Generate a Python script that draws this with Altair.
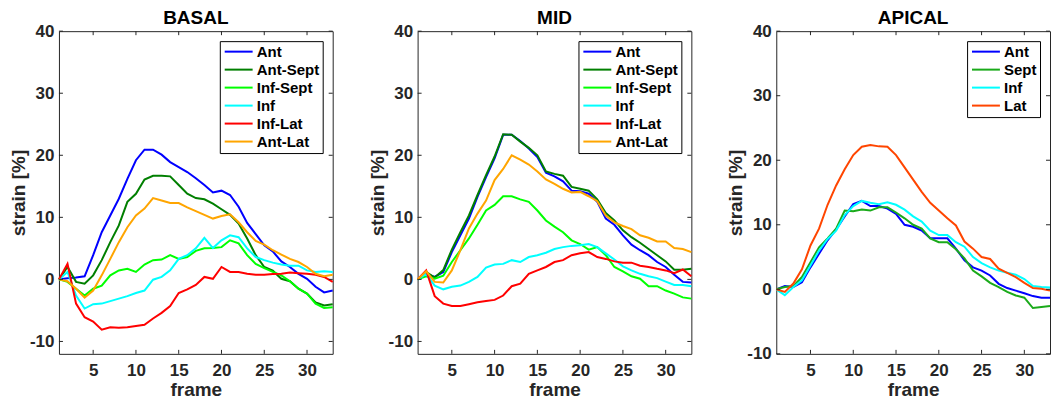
import altair as alt
import pandas as pd

FRAMES = list(range(1, 34))
X_TICKS = [5, 10, 15, 20, 25, 30]
Y_TICKS = [-10, 0, 10, 20, 30, 40]

# ---------------- BASAL ----------------
BASAL_NAMES = ["Ant", "Ant-Sept", "Inf-Sept", "Inf", "Inf-Lat", "Ant-Lat"]
BASAL_COLORS = ["#0000ff", "#007f00", "#00ff00", "#00ffff", "#ff0000", "#ffa500"]
basal_ant = [0, 0.2, 0.3, 0.5, 3.9, 7.6, 10.3, 13.0, 16.2, 19.2, 20.9, 20.9, 20.1, 18.9, 18.1, 17.3,
             16.3, 15.2, 14.0, 14.3, 13.6, 11.7, 9.1, 7.3, 5.5, 4.5, 2.9, 2.0, 0.9, 0.1, -1.2, -2.1, -1.8]
basal_antsept = [0, 2.0, -0.4, -0.7, 0.65, 3.1, 6.0, 8.7, 12.5, 13.8, 16.1, 16.7, 16.7, 16.6, 15.2, 13.8,
                 13.1, 12.9, 12.2, 11.3, 10.4, 9.0, 6.6, 3.9, 2.0, 1.4, 0.1, -0.3, -1.5, -2.3, -3.7, -4.2, -4.0]
basal_infsept = [0, -0.4, -1.5, -2.6, -1.5, -1.0, 0.65, 1.45, 1.7, 1.2, 2.4, 3.1, 3.2, 3.9, 3.3, 3.6,
                 4.6, 5.0, 5.05, 5.2, 6.3, 5.8, 3.9, 2.5, 1.8, 1.2, 0.65, -0.3, -1.5, -2.3, -3.9, -4.6, -4.5]
basal_inf = [0, 1.2, -2.6, -4.7, -4.0, -3.9, -3.5, -3.1, -2.7, -2.2, -1.8, -0.05, 0.4, 1.45, 3.3, 3.9,
             5.0, 6.7, 5.05, 6.3, 7.1, 6.8, 5.0, 3.6, 3.1, 2.7, 2.4, 2.2, 2.2, 1.45, 1.2, 1.3, 1.2]
basal_inflat = [0, 2.5, -3.9, -6.1, -6.8, -8.1, -7.7, -7.8, -7.7, -7.5, -7.3, -6.3, -5.4, -4.3, -2.2, -1.6,
                -0.9, 0.4, 0.1, 2.0, 1.2, 1.2, 0.9, 0.75, 0.75, 0.85, 0.9, 1.1, 1.0, 0.9, 0.75, 0.4, -0.4]
basal_antlat = [0, -0.3, -1.5, -2.95, -1.8, 0.65, 3.3, 6.0, 8.4, 10.3, 11.4, 13.1, 12.7, 12.3, 12.3, 11.6,
                11.0, 10.4, 9.8, 10.2, 10.5, 9.2, 7.6, 6.2, 5.6, 4.7, 4.0, 3.3, 2.8, 2.0, 0.9, 0.5, 0.75]

# ---------------- MID ----------------
MID_NAMES = BASAL_NAMES
MID_COLORS = BASAL_COLORS
mid_ant = [0, 0.9, 0.4, 1.2, 4.4, 7.1, 9.8, 13.3, 16.5, 19.5, 23.3, 23.3, 22.3, 21.1, 19.7, 17.2,
           16.6, 15.8, 14.3, 14.2, 13.8, 12.5, 9.8, 8.8, 7.1, 5.6, 4.7, 3.9, 2.8, 2.0, 0.75, -0.4, -0.5]
mid_antsept = [0, 1.2, 0.3, 1.5, 4.8, 7.6, 10.3, 13.6, 16.8, 19.8, 23.4, 23.3, 22.2, 21.2, 20.0, 17.4,
               17.0, 16.7, 14.9, 14.6, 14.3, 12.9, 10.7, 9.5, 7.9, 6.8, 5.9, 4.9, 3.9, 2.9, 1.55, 1.55, 1.7]
mid_infsept = [0, 0.5, 0.1, 0.6, 2.8, 4.7, 6.6, 8.8, 11.1, 12.0, 13.4, 13.4, 12.9, 12.5, 11.1, 9.5,
               8.5, 7.6, 6.3, 5.7, 4.8, 5.2, 3.9, 2.0, 1.3, 0.5, 0.1, -1.1, -1.1, -1.8, -2.3, -2.9, -3.1]
mid_inf = [0, 0.9, -1.0, -1.6, -1.2, -1.0, -0.4, 0.4, 1.9, 2.4, 2.5, 3.1, 2.8, 3.6, 3.9, 4.3,
           4.9, 5.2, 5.4, 5.5, 5.7, 5.2, 4.2, 3.2, 2.1, 1.45, 0.9, 0.5, 0.2, -0.35, -0.9, -0.9, -1.1]
mid_inflat = [0, 1.45, -2.7, -3.9, -4.3, -4.3, -4.0, -3.7, -3.5, -3.3, -2.6, -1.1, -0.7, 0.9, 1.45, 2.0,
              2.8, 3.1, 3.9, 4.2, 4.4, 3.6, 3.3, 2.9, 2.7, 2.7, 2.2, 2.0, 1.7, 1.45, 1.0, 1.6, 0.5]
mid_antlat = [0, 1.3, -0.4, -0.5, 1.45, 4.7, 8.2, 10.6, 12.7, 16.0, 17.8, 20.0, 19.3, 18.5, 17.4, 16.1,
              15.4, 14.6, 14.0, 14.1, 13.4, 12.6, 10.3, 9.2, 8.6, 8.1, 7.1, 6.7, 6.1, 6.1, 5.05, 4.9, 4.4]

# ---------------- APICAL ----------------
APICAL_NAMES = ["Ant", "Sept", "Inf", "Lat"]
APICAL_COLORS = ["#0000ff", "#1aaa1a", "#00ffff", "#ff4500"]
apical_ant = [0, 0.5, 0.35, 1.1, 3.4, 5.5, 7.6, 9.3, 11.3, 13.2, 13.7, 12.9, 12.9, 12.5, 11.7, 10.0,
              9.7, 9.1, 7.9, 7.9, 7.9, 6.3, 4.5, 3.4, 2.9, 2.15, 0.85, 0.2, -0.2, -0.6, -1.05, -1.3, -1.3]
apical_sept = [0, 0.35, 0.5, 1.9, 4.2, 6.5, 7.9, 9.4, 12.2, 12.1, 12.35, 12.2, 12.7, 12.7, 11.9, 11.0,
               10.0, 9.4, 7.9, 7.3, 7.3, 6.2, 4.8, 2.9, 2.0, 1.0, 0.35, -0.4, -0.95, -1.3, -2.9, -2.75, -2.6]
apical_inf = [0, -0.9, 0.35, 1.4, 3.7, 6.0, 7.8, 9.1, 11.5, 12.9, 13.7, 13.4, 13.2, 13.5, 13.1, 12.35,
              11.3, 10.5, 9.1, 8.4, 8.4, 7.3, 6.6, 5.0, 4.05, 3.4, 2.9, 2.56, 2.25, 1.6, 0.5, 0.35, 0.3]
apical_lat = [0, -0.4, 0.9, 3.1, 6.8, 9.4, 13.1, 16.1, 18.6, 20.8, 22.1, 22.35, 22.15, 22.1, 20.8, 18.9,
              17.0, 15.1, 13.4, 12.2, 11.0, 9.9, 7.4, 6.3, 5.0, 4.7, 3.2, 2.56, 1.9, 1.0, 0.2, 0.1, -0.2]

FONT = "Liberation Sans"
AX_COLOR = "#262626"
W, H, TL = 274, 323, 4


def long_df(names, series):
    rows = []
    for name, vals in zip(names, series):
        for f, v in zip(FRAMES, vals):
            rows.append({"frame": f, "strain": v, "segment": name})
    return pd.DataFrame(rows)


def panel(title, names, colors, series, ydomain):
    df = long_df(names, series)
    xs = alt.Scale(domain=[1, 33], nice=False, zero=False)
    ys = alt.Scale(domain=ydomain, nice=False, zero=False)
    xaxis = alt.Axis(values=X_TICKS, title="frame", ticks=False, tickSize=0,
                     domain=False, grid=False, labelPadding=9, titlePadding=2,
                     labelExpr="'' + datum.value")
    yaxis = alt.Axis(values=Y_TICKS, title="strain [%]", ticks=False, tickSize=0,
                     domain=False, grid=False, labelPadding=5, titlePadding=1,
                     labelExpr="'' + datum.value")
    lines = alt.Chart(df).mark_line(strokeWidth=2).encode(
        x=alt.X("frame:Q", scale=xs, axis=xaxis),
        y=alt.Y("strain:Q", scale=ys, axis=yaxis),
        color=alt.Color("segment:N", scale=alt.Scale(domain=names, range=colors),
                        legend=alt.Legend(title=None)),
    )
    xt = alt.Chart(pd.DataFrame({"t": X_TICKS}))
    yt = alt.Chart(pd.DataFrame({"t": Y_TICKS}))
    rule = dict(color=AX_COLOR, strokeWidth=1)
    t_bottom = xt.mark_rule(**rule).encode(
        x=alt.X("t:Q", scale=xs, axis=xaxis), y=alt.value(H), y2=alt.value(H - TL))
    t_top = xt.mark_rule(**rule).encode(
        x=alt.X("t:Q", scale=xs, axis=xaxis), y=alt.value(0), y2=alt.value(TL))
    t_left = yt.mark_rule(**rule).encode(
        y=alt.Y("t:Q", scale=ys, axis=yaxis), x=alt.value(0), x2=alt.value(TL))
    t_right = yt.mark_rule(**rule).encode(
        y=alt.Y("t:Q", scale=ys, axis=yaxis), x=alt.value(W), x2=alt.value(W - TL))
    ttl = alt.Chart(pd.DataFrame({"label": [title]})).mark_text(
        font=FONT, fontSize=19, fontWeight="bold", color="black",
        align="center", baseline="alphabetic",
    ).encode(x=alt.value(W / 2), y=alt.value(-7.5), text="label:N")
    return alt.layer(lines, t_bottom, t_top, t_left, t_right, ttl).properties(
        width=W, height=H,
    )


p1 = panel("BASAL", BASAL_NAMES, BASAL_COLORS,
           [basal_ant, basal_antsept, basal_infsept, basal_inf, basal_inflat, basal_antlat], [-12, 40])
p2 = panel("MID", MID_NAMES, MID_COLORS,
           [mid_ant, mid_antsept, mid_infsept, mid_inf, mid_inflat, mid_antlat], [-12, 40])
p3 = panel("APICAL", APICAL_NAMES, APICAL_COLORS,
           [apical_ant, apical_sept, apical_inf, apical_lat], [-10, 40])

chart = alt.hconcat(p1, p2, p3, spacing=85, bounds="flush").resolve_scale(
    color="independent"
).configure_view(
    stroke=AX_COLOR, strokeWidth=1
).configure_axis(
    labelFont=FONT, labelFontSize=17, labelFontWeight="bold", labelColor=AX_COLOR,
    titleFont=FONT, titleFontSize=19, titleFontWeight="bold", titleColor=AX_COLOR,
).configure_legend(
    orient="top-right", offset=10, strokeColor="black", fillColor="white", padding=3,
    cornerRadius=0, symbolType="M-1,0H4", symbolSize=125, symbolStrokeWidth=2,
    labelFont=FONT, labelFontSize=15, labelFontWeight="bold", labelColor="black",
    rowPadding=2, labelOffset=19,
).properties(
    padding={"left": 0, "top": 0, "right": 0, "bottom": 0},
    background="white",
)

chart.save("out.html", embed_options={"renderer": "svg", "actions": False})
